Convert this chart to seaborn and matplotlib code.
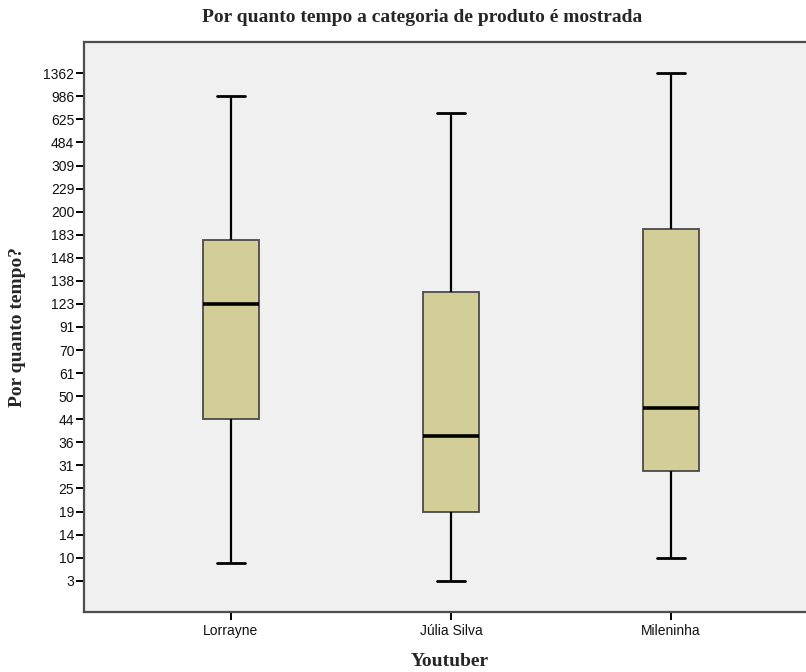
import numpy as np
import pandas as pd
import matplotlib
matplotlib.use("Agg")
import matplotlib.pyplot as plt
import seaborn as sns

# Category labels and ordinal tick labels (SPSS ordinal axis)
youtubers = ["Lorrayne", "Júlia Silva", "Mileninha"]
tick_labels = ["3", "10", "14", "19", "25", "31", "36", "44", "50", "61", "70",
               "91", "123", "138", "148", "183", "200", "229", "309", "484",
               "625", "986", "1362"]

# Box statistics in ordinal-axis units (position of each value among tick labels)
mins = [0.76, 0.0, 1.0]
q1s = [7.0, 3.0, 4.77]
medians = [12.0, 6.26, 7.5]
q3s = [14.76, 12.51, 15.25]
maxs = [21.0, 20.27, 22.0]

rows = []
for name, a, b, c, d, e in zip(youtubers, mins, q1s, medians, q3s, maxs):
    for v in (a, b, c, d, e):
        rows.append({"Youtuber": name, "pos": v})
df = pd.DataFrame(rows)

sns.set_style("white")
plt.rcParams["font.family"] = ["Liberation Sans", "DejaVu Sans"]

fig = plt.figure(figsize=(8.06, 6.72), dpi=100)
ax = fig.add_axes([84 / 806, (672 - 611.7) / 672, 1 - 84 / 806, 570 / 672])
ax.set_facecolor("#F0F0F0")

sns.boxplot(data=df, x="Youtuber", y="pos", order=youtubers, ax=ax,
            width=0.255, color="#D3CE97", saturation=1, whis=(0, 100),
            linewidth=1.3,
            boxprops=dict(edgecolor="#4a4a4a", linewidth=1.3),
            whiskerprops=dict(color="black", linewidth=1.6),
            capprops=dict(color="black", linewidth=2.0),
            medianprops=dict(color="black", linewidth=2.6),
            showfliers=False)

ax.set_xlim(-0.668, 2.614)
ax.set_ylim(-1.344, 23.37)
ax.set_yticks(range(len(tick_labels)))
ax.set_yticklabels(tick_labels)

for s in ["left", "top", "bottom"]:
    ax.spines[s].set_color("#4d4d4d")
    ax.spines[s].set_linewidth(1.6)
ax.spines["right"].set_visible(False)

ax.tick_params(axis="y", direction="out", length=6, width=1.4, color="black",
               pad=1, labelsize=10, labelcolor="#111111", left=True)
ax.tick_params(axis="x", direction="out", length=6, width=1.4, color="black",
               pad=3, labelsize=10, labelcolor="#111111", bottom=True)

ax.set_xlabel("")
ax.set_ylabel("")

fig.text(0.524, 1 - 18 / 672, "Por quanto tempo a categoria de produto é mostrada",
         ha="center", va="center", fontsize=14, fontweight="bold",
         family="Liberation Serif")
fig.text(18 / 806, 1 - 327 / 672, "Por quanto tempo?", ha="center", va="center",
         rotation=90, fontsize=14, fontweight="bold", family="Liberation Serif")
fig.text(450 / 806, 1 - 661 / 672, "Youtuber", ha="center", va="center",
         fontsize=14, fontweight="bold", family="Liberation Serif")

fig.savefig("out.png", dpi=100, facecolor="white")
